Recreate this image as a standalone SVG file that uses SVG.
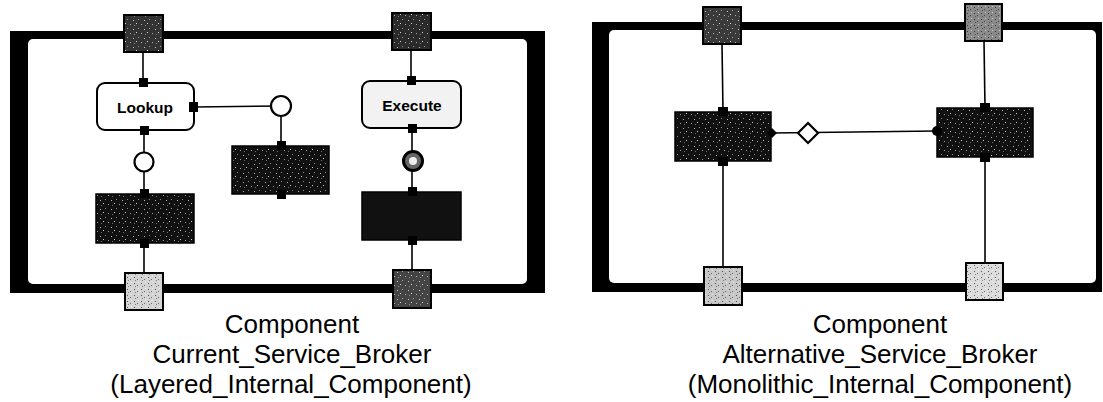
<svg xmlns="http://www.w3.org/2000/svg" width="1103" height="402" viewBox="0 0 1103 402">
<defs>
  <pattern id="speck" width="11" height="9" patternUnits="userSpaceOnUse">
    <rect x="1" y="2" width="1" height="1" fill="#fff" opacity="0.7"/>
    <rect x="6" y="1" width="1" height="1" fill="#fff" opacity="0.5"/>
    <rect x="4" y="5" width="1" height="1" fill="#fff" opacity="0.8"/>
    <rect x="9" y="6" width="1" height="1" fill="#fff" opacity="0.6"/>
    <rect x="2" y="7" width="1" height="1" fill="#fff" opacity="0.4"/>
  </pattern>
  <pattern id="speckd" width="7" height="6" patternUnits="userSpaceOnUse">
    <rect x="1" y="1" width="1" height="1" fill="#000" opacity="0.6"/>
    <rect x="4" y="3" width="1" height="1" fill="#000" opacity="0.5"/>
    <rect x="2" y="4" width="1" height="1" fill="#000" opacity="0.4"/>
    <rect x="5" y="0" width="1" height="1" fill="#fff" opacity="0.5"/>
  </pattern>
</defs>
<style>
.frame{fill:#000}
.inner{fill:#fff}
.port{stroke:#000;stroke-width:2}
.p{fill:#000}
.ln{stroke:#000;stroke-width:1.6;fill:none}
.op{fill:#fff;stroke:#000;stroke-width:2.2}
.dark{fill:#111;stroke:#000;stroke-width:1.5}
.sp{fill:url(#speck)}
.spd{fill:url(#speckd)}
.lbl{font-family:"Liberation Sans",Arial,sans-serif;font-weight:bold;font-size:15.5px;text-anchor:middle;fill:#000}
.cap{font-family:"Liberation Sans",Arial,sans-serif;font-size:26px;text-anchor:middle;fill:#000}
</style>
<rect width="1103" height="402" fill="#fff"/>

<!-- Left component frame -->
<g id="frame-left">
  <rect class="frame" x="10" y="31" width="535" height="262"/>
  <rect class="inner" x="28" y="39" width="499" height="245" rx="5"/>
</g>
<!-- Right component frame -->
<g id="frame-right">
  <rect class="frame" x="592" y="22" width="510" height="270"/>
  <rect class="inner" x="609" y="30" width="487" height="253" rx="5"/>
</g>

<g id="connectors">
  <!-- left panel -->
  <line class="ln" x1="143" y1="52" x2="143" y2="83"/>
  <line class="ln" x1="144" y1="130" x2="144" y2="194"/>
  <line class="ln" x1="144" y1="243" x2="144" y2="273"/>
  <line class="ln" x1="194" y1="107" x2="281" y2="106"/>
  <line class="ln" x1="281" y1="106" x2="281" y2="146"/>
  <line class="ln" x1="411" y1="50" x2="411" y2="80"/>
  <line class="ln" x1="412" y1="128" x2="412" y2="192"/>
  <line class="ln" x1="412" y1="240" x2="412" y2="270"/>
  <!-- right panel -->
  <line class="ln" x1="722" y1="44" x2="723" y2="112"/>
  <line class="ln" x1="723" y1="161" x2="723" y2="267"/>
  <line class="ln" x1="984" y1="41" x2="985" y2="108"/>
  <line class="ln" x1="985" y1="157" x2="985" y2="263"/>
  <line class="ln" x1="772" y1="133" x2="936" y2="131"/>
</g>

<!-- Left panel ports -->
<g id="port-l-tl"><rect class="port" x="124" y="15" width="39" height="37" fill="#333"/><rect class="sp" x="125" y="16" width="37" height="35"/></g>
<g id="port-l-tr"><rect class="port" x="392" y="13" width="39" height="37" fill="#2a2a2a"/><rect class="sp" x="393" y="14" width="37" height="35"/></g>
<g id="port-l-bl"><rect class="port" x="125" y="273" width="38" height="37" fill="#d4d4d4"/><rect class="spd" x="126" y="274" width="36" height="35"/></g>
<g id="port-l-br"><rect class="port" x="393" y="270" width="38" height="38" fill="#444"/><rect class="sp" x="394" y="271" width="36" height="36"/></g>

<!-- Lookup -->
<g id="lookup">
  <rect x="97" y="83" width="97" height="47" rx="8" fill="#fff" stroke="#000" stroke-width="2"/>
  <text class="lbl" x="145" y="113">Lookup</text>
  <rect class="p" x="139" y="78" width="9" height="9"/>
  <rect class="p" x="140" y="126" width="9" height="9"/>
  <rect class="p" x="189" y="102" width="9" height="10"/>
</g>
<g id="conn-l1"><circle class="op" cx="144" cy="162" r="9.5"/></g>
<g id="lookup-impl">
  <rect class="dark" x="96" y="194" width="98" height="49"/>
  <rect class="sp" x="97" y="195" width="96" height="47"/>
  <rect class="p" x="140" y="189" width="9" height="9"/>
  <rect class="p" x="140" y="239" width="9" height="9"/>
</g>
<g id="conn-l2"><circle class="op" cx="281" cy="106" r="10"/></g>
<g id="discovery">
  <rect class="dark" x="232" y="146" width="97" height="48"/>
  <rect class="sp" x="233" y="147" width="95" height="46"/>
  <rect class="p" x="277" y="141" width="9" height="9"/>
  <rect class="p" x="277" y="190" width="9" height="9"/>
</g>

<!-- Execute -->
<g id="execute">
  <rect x="362" y="81" width="99" height="47" rx="8" fill="#f2f2f2" stroke="#000" stroke-width="2"/>
  <text class="lbl" x="412" y="111">Execute</text>
  <rect class="p" x="407" y="76" width="9" height="9"/>
  <rect class="p" x="408" y="124" width="9" height="9"/>
</g>
<g id="conn-l3">
  <circle cx="413" cy="161" r="9.5" fill="#666" stroke="#000" stroke-width="3"/>
  <circle cx="413" cy="161" r="4" fill="#eee"/>
</g>
<g id="execute-impl">
  <rect class="dark" x="362" y="192" width="99" height="48"/>
  <rect class="p" x="408" y="187" width="9" height="9"/>
  <rect class="p" x="408" y="236" width="9" height="9"/>
</g>

<!-- Right panel ports -->
<g id="port-r-tl"><rect class="port" x="703" y="7" width="38" height="37" fill="#3a3a3a"/><rect class="sp" x="704" y="8" width="36" height="35"/></g>
<g id="port-r-tr"><rect class="port" x="965" y="4" width="37" height="37" fill="#8a8a8a"/><rect class="spd" x="966" y="5" width="35" height="35"/></g>
<g id="port-r-bl"><rect class="port" x="704" y="267" width="38" height="38" fill="#c8c8c8"/><rect class="spd" x="705" y="268" width="36" height="36"/></g>
<g id="port-r-br"><rect class="port" x="966" y="263" width="37" height="37" fill="#dcdcdc"/><rect class="spd" x="967" y="264" width="35" height="35"/></g>

<g id="lookup-mono">
  <rect class="dark" x="675" y="112" width="96" height="49"/>
  <rect class="sp" x="676" y="113" width="94" height="47"/>
  <rect class="p" x="718" y="107" width="10" height="9"/>
  <rect class="p" x="718" y="157" width="10" height="9"/>
  <path class="p" d="M767 133 L772 128 L777 133 L772 138 Z"/>
</g>
<g id="conn-r"><path d="M808 123 L818 133 L808 143 L798 133 Z" fill="#fff" stroke="#000" stroke-width="2.2"/></g>
<g id="execute-mono">
  <rect class="dark" x="937" y="108" width="96" height="49"/>
  <rect class="sp" x="938" y="109" width="94" height="47"/>
  <rect class="p" x="980" y="103" width="10" height="9"/>
  <rect class="p" x="980" y="153" width="10" height="9"/>
  <circle class="p" cx="937" cy="131" r="5"/>
</g>

<g id="caption-left">
  <text class="cap" x="292" y="333">Component</text>
  <text class="cap" x="292" y="363">Current_Service_Broker</text>
  <text class="cap" x="291" y="393">(Layered_Internal_Component)</text>
</g>
<g id="caption-right">
  <text class="cap" x="880" y="333">Component</text>
  <text class="cap" x="880" y="363">Alternative_Service_Broker</text>
  <text class="cap" x="880" y="393">(Monolithic_Internal_Component)</text>
</g>
</svg>
